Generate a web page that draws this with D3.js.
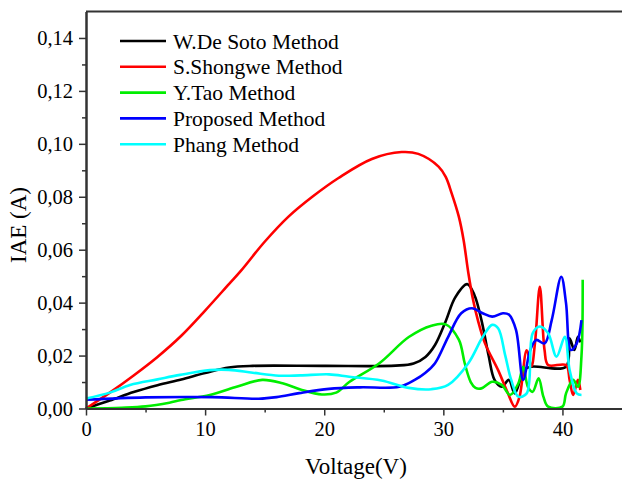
<!DOCTYPE html>
<html>
<head>
<meta charset="utf-8">
<script src="https://cdn.jsdelivr.net/npm/d3@7"></script>
<style>
  body { margin: 0; background: #fff; }
  text { font-family: "Liberation Serif", "Times New Roman", serif; fill: #000; }
</style>
</head>
<body>
<svg id="graph" width="622" height="481"></svg>
<script>
// Data (Voltage V, IAE A)
var seriesNames = ['W.De Soto Method', 'S.Shongwe Method', 'Y.Tao Method', 'Proposed Method', 'Phang Method'];
var seriesColors = ['#000000', '#ff0000', '#00ee00', '#0000ff', '#00ffff'];

var deSoto = [[0,0],[2,0.003],[4,0.0062],[6,0.0088],[8,0.011],[10,0.0134],[12,0.0155],[14,0.0161],[20,0.0161],[26,0.0162],[27.5,0.017],[28.5,0.0195],[29.3,0.024],[30.2,0.033],[31,0.042],[32,0.047],[32.6,0.043],[33.2,0.0334],[33.8,0.02],[34.3,0.0108],[34.9,0.0082],[35.5,0.0108],[36,0.0057],[36.8,0.0146],[37.4,0.0158],[40.3,0.0158],[40.6,0.0265],[41,0.0221],[41.3,0.0271],[41.5,0.025]];
var shongwe = [[0,0],[2,0.006],[4,0.0125],[6,0.0195],[8,0.0275],[10,0.037],[12,0.047],[13,0.052],[15,0.063],[17,0.0725],[19,0.08],[21.2,0.0871],[24,0.0943],[26.5,0.0969],[27.9,0.0962],[29.6,0.0914],[30.2,0.0875],[30.7,0.0813],[31.3,0.0725],[31.7,0.0637],[32.1,0.0512],[32.5,0.041],[32.9,0.0334],[33.5,0.0246],[34.6,0.0145],[35.4,0.006],[36,0.0007],[36.4,0.0045],[37,0.022],[37.4,0.016],[37.7,0.025],[38.1,0.046],[38.5,0.022],[38.8,0.0164],[40.3,0.0164],[40.6,0.0108],[40.9,0.0051],[41.3,0.0108],[41.5,0.007]];
var tao = [[0,0],[3,0.0003],[5,0.0008],[7,0.0022],[8,0.0032],[10.4,0.0051],[12.5,0.008],[14.8,0.0108],[16.5,0.0095],[18,0.0072],[19.8,0.0053],[21,0.006],[22.1,0.01],[24.6,0.017],[27.1,0.027],[29,0.0313],[30.2,0.0318],[31.3,0.026],[31.8,0.017],[32.3,0.01],[32.7,0.0078],[33.2,0.0076],[34.1,0.0101],[34.9,0.0089],[35.6,0.0051],[36.3,0.0095],[36.7,0.0158],[37.1,0.0082],[37.5,0.0063],[38,0.0114],[38.4,0.0045],[38.8,0.0007],[40,0.0007],[40.3,0.0057],[40.9,0.0108],[41.3,0.0082],[41.6,0.02],[41.7,0.0486]];
var proposed = [[0,0.0033],[5,0.0042],[10.6,0.0043],[14.5,0.0037],[16,0.0043],[17.9,0.0058],[20.4,0.0074],[23,0.008],[26.3,0.0082],[27.6,0.0108],[28.5,0.0135],[29.3,0.0171],[30.4,0.027],[31.5,0.036],[32.4,0.0379],[33.3,0.036],[34.1,0.0347],[35,0.036],[35.5,0.0355],[36.1,0.0297],[36.7,0.0108],[37.3,0.0221],[37.8,0.0259],[38.5,0.0246],[39.1,0.0334],[39.9,0.0498],[40.3,0.0398],[40.7,0.0221],[41.2,0.0246],[41.6,0.0334]];
var phang = [[0,0.0038],[2,0.006],[3.7,0.0089],[6,0.011],[7.9,0.0127],[10.4,0.0145],[12,0.0146],[14,0.0135],[16.2,0.0124],[18,0.0125],[20.4,0.0129],[22.1,0.012],[24.8,0.0106],[27.1,0.0078],[29,0.0073],[30.4,0.0089],[32.1,0.0171],[33.3,0.027],[34.1,0.0316],[34.6,0.0303],[35.2,0.02],[35.7,0.0108],[36.3,0.0045],[37,0.0057],[37.5,0.0284],[38.1,0.031],[38.8,0.0284],[39.5,0.0196],[40.2,0.0271],[40.6,0.0146],[41.2,0.0057],[41.6,0.0051]];
var allSeries = [deSoto, shongwe, tao, proposed, phang];

var xMajor = [0, 10, 20, 30, 40];
var xMinor = [5, 15, 25, 35];
var yMajor = [0, 0.02, 0.04, 0.06, 0.08, 0.10, 0.12, 0.14];
var yMinor = [0.01, 0.03, 0.05, 0.07, 0.09, 0.11, 0.13];

/*************************************************/

var svg = d3.select('#graph');
var plotLeft = 86, plotRight = 622, plotTop = 11.5, plotBottom = 408.5;

var xScale = d3.scaleLinear().domain([0, 45]).range([plotLeft, plotRight]);
var yScale = d3.scaleLinear().domain([0, 0.15]).range([plotBottom, plotTop]);
var axisColor = '#333';

var lineGen = d3.line().x(function(d){ return xScale(d[0]) }).y(function(d){ return yScale(d[1]) }).curve(d3.curveCatmullRom.alpha(0.5));

// curves
allSeries.forEach(function(s, i){
  svg.append('path').attr('d', lineGen(s))
     .style('fill', 'none').style('stroke', seriesColors[i]).style('stroke-width', 2.6).style('stroke-linejoin', 'round');
});

// top frame line
svg.append('line').attr('x1', plotLeft).attr('x2', plotRight).attr('y1', plotTop).attr('y2', plotTop)
   .style('stroke', axisColor).style('stroke-width', 2);

// x axis
var fmtComma = function(d){ return d3.format('.2f')(d).replace('.', ',') };
svg.append('g').attr('transform', 'translate(0,' + plotBottom + ')')
   .call(d3.axisBottom(xScale).tickValues(xMajor).tickSize(7).tickSizeOuter(0).tickPadding(6).tickFormat(d3.format('d')));
svg.append('g').attr('transform', 'translate(0,' + plotBottom + ')')
   .call(d3.axisBottom(xScale).tickValues(xMinor).tickSize(4).tickSizeOuter(0).tickFormat(''));

// y axis
svg.append('g').attr('transform', 'translate(' + plotLeft + ',0)')
   .call(d3.axisLeft(yScale).tickValues(yMajor).tickSize(7).tickSizeOuter(0).tickPadding(6).tickFormat(fmtComma));
svg.append('g').attr('transform', 'translate(' + plotLeft + ',0)')
   .call(d3.axisLeft(yScale).tickValues(yMinor).tickSize(4).tickSizeOuter(0).tickFormat(''));

svg.selectAll('.domain').style('stroke', axisColor).style('stroke-width', 2);
svg.selectAll('.tick line').style('stroke', axisColor).style('stroke-width', 1.5);
svg.selectAll('.tick text').style('font-family', '"Liberation Serif", serif').style('font-size', '20.5px').style('fill', '#000');

// axis titles
svg.append('text').attr('x', 356).attr('y', 474).style('text-anchor', 'middle').style('font-size', '23px').text('Voltage(V)');
svg.append('text').attr('transform', 'translate(' + 26 + ',' + 225 + ') rotate(-90)')
   .style('text-anchor', 'middle').style('font-size', '23px').text('IAE (A)');

// legend
var legend = svg.append('g').attr('transform', 'translate(120,41)');
seriesNames.forEach(function(name, i){
  var row = legend.append('g').attr('transform', 'translate(0,' + (i * 25.8) + ')');
  row.append('line').attr('x1', 0).attr('x2', 46).attr('y1', 0).attr('y2', 0)
     .style('stroke', seriesColors[i]).style('stroke-width', 2.6);
  row.append('text').attr('x', 53).attr('y', 0).attr('dy', '0.35em').style('font-size', '21.5px').text(name);
});
</script>
</body>
</html>
